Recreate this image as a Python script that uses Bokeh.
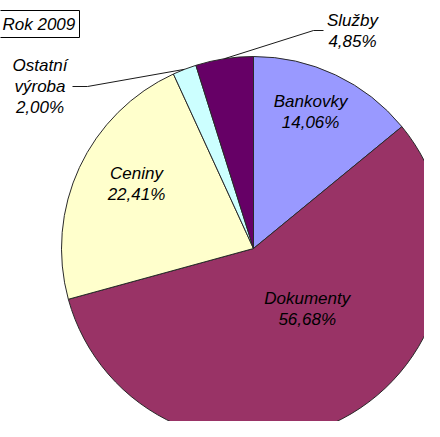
import numpy as np
from bokeh.plotting import figure
from bokeh.models import Range1d
from bokeh.core.properties import value
from bokeh.embed import file_html
from bokeh.resources import INLINE

# ---- data ----
title_text = "Rok 2009"
categories = ["Bankovky", "Dokumenty", "Ceniny", "Ostatní\nvýroba", "Služby"]
shares = [14.06, 56.68, 22.41, 2.00, 4.85]
colors = ["#9999FF", "#993366", "#FFFFCC", "#CCFFFF", "#660066"]

# ---- layout (coordinates = reference pixels, y measured upward) ----
REF_H = 437
W, H = 424, 421
CX, CY, R = 253, REF_H - 248, 192
FONT = "Liberation Sans"
FS = "17px"
LINE_H = 21

# inside-label placement: radius fraction and angular nudge (deg) per slice
inside = {0: (0.77, -2.6), 1: (0.42, -14.4), 2: (0.695, 3.7)}
# outside labels: label block centre, elbow, end of leader
outside = {
    3: dict(center=(39.5, REF_H - 86), elbow=(87, REF_H - 86), end=(72, REF_H - 86)),
    4: dict(center=(352, REF_H - 30.5), elbow=(313, REF_H - 30), end=(323, REF_H - 30)),
}

p = figure(width=W, height=H, x_range=Range1d(0, W), y_range=Range1d(REF_H - H, REF_H),
           output_backend="svg", toolbar_location=None, min_border=0,
           x_axis_location=None, y_axis_location=None)
p.grid.visible = False
p.outline_line_color = None
p.background_fill_color = "white"
p.border_fill_color = "white"

vals = np.array(shares, dtype=float)
frac = vals / vals.sum()
cum = np.concatenate([[0.0], np.cumsum(frac)])
start = np.pi / 2 - 2 * np.pi * cum[:-1]
end = np.pi / 2 - 2 * np.pi * cum[1:]

p.wedge(x=CX, y=CY, radius=R, start_angle=start, end_angle=end, direction="clock",
        fill_color=colors, line_color="#2a2a2a", line_width=1)


def pct(v):
    return f"{v:.2f}".replace(".", ",") + "%"


def draw_block(x, y, lines):
    n = len(lines)
    xs, ys = [], []
    for k in range(n):
        xs.append(x)
        ys.append(y + ((n - 1) / 2 - k) * LINE_H)
    p.text(x=xs, y=ys, text=lines, text_align="center", text_baseline="middle",
           text_font=value(FONT), text_font_size=FS, text_font_style="italic",
           text_color="black")


for i, cat in enumerate(categories):
    mid = 360 * (cum[i] + frac[i] / 2)
    lines = cat.split("\n") + [pct(shares[i])]
    if i in inside:
        rf, nudge = inside[i]
        th = np.radians(mid + nudge)
        draw_block(CX + R * rf * np.sin(th), CY + R * rf * np.cos(th), lines)
    else:
        o = outside[i]
        th = np.radians(mid)
        ex, ey = CX + R * np.sin(th), CY + R * np.cos(th)
        p.line(x=[ex, o["elbow"][0], o["end"][0]], y=[ey, o["elbow"][1], o["end"][1]],
               line_color="#1a1a1a", line_width=1)
        draw_block(o["center"][0], o["center"][1], lines)

# title box
p.quad(left=[-2], right=[79], bottom=[REF_H - 37], top=[REF_H - 10],
       fill_color="white", line_color="black", line_width=1)
p.text(x=[2], y=[REF_H - 23.5], text=[title_text], text_align="left", text_baseline="middle",
       text_font=value(FONT), text_font_size=FS, text_font_style="italic", text_color="black")

open("out.html", "w").write(file_html(p, INLINE))
